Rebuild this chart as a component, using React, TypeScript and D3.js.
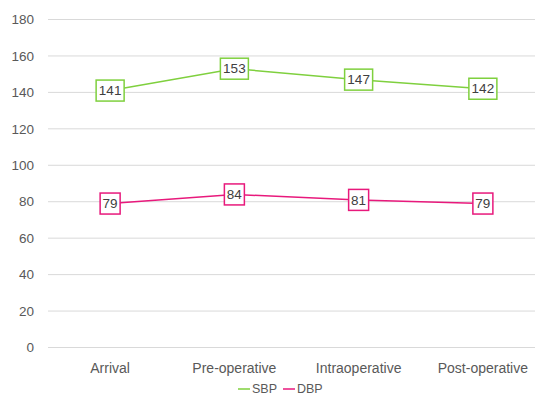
import React from "react";
import * as d3 from "d3";

const categories = ["Arrival", "Pre-operative", "Intraoperative", "Post-operative"];
const categoryLabels = ["Arrival", "Pre-operative", "Intraoperative", "Post-operative"];
const sbp = [141, 153, 147, 142];
const dbp = [79, 84, 81, 79];
const yTicks = [0, 20, 40, 60, 80, 100, 120, 140, 160, 180];
const seriesNames = ["SBP", "DBP"];

const W = 535;
const H = 397;
const FONT = "'Liberation Sans', Arial, sans-serif";
const GREEN = "#7fd03e";
const PINK = "#e8197c";

export default function App() {
  const x = d3.scaleBand<string>().domain(categories).range([48, 545]);
  const y = d3.scaleLinear().domain([0, 180]).range([347.5, 19.5]);
  const cx = (c: string) => (x(c) as number) + x.bandwidth() / 2;
  const line = d3
    .line<number>()
    .x((_, i) => cx(categories[i]))
    .y((v) => y(v));

  const series = [
    { name: seriesNames[0], values: sbp, color: GREEN },
    { name: seriesNames[1], values: dbp, color: PINK },
  ];

  return (
    <svg
      width={W}
      height={H}
      style={{ position: "absolute", left: 0, top: 0, background: "#fff" }}
      fontFamily={FONT}
    >
      {yTicks.map((t) => (
        <g key={t}>
          <line x1={48} x2={545} y1={y(t)} y2={y(t)} stroke="#d9d9d9" strokeWidth={1} />
          <text x={34} y={y(t)} dy="0.35em" textAnchor="end" fontSize={13.5} fill="#595959">
            {t}
          </text>
        </g>
      ))}
      {categories.map((c, i) => (
        <text key={c} x={cx(c)} y={368} dy="0.35em" textAnchor="middle" fontSize={14} fill="#595959">
          {categoryLabels[i]}
        </text>
      ))}
      {series.map((s) => (
        <g key={s.name}>
          <path d={line(s.values) || ""} fill="none" stroke={s.color} strokeWidth={1.5} />
          {s.values.map((v, i) => {
            const w = v >= 100 ? 28 : 20;
            const h = 21;
            const px = cx(categories[i]);
            const py = y(v);
            return (
              <g key={i}>
                <rect
                  x={px - w / 2}
                  y={py - h / 2}
                  width={w}
                  height={h}
                  fill="#fff"
                  stroke={s.color}
                  strokeWidth={1.5}
                />
                <text x={px} y={py} dy="0.35em" textAnchor="middle" fontSize={13.5} fill="#404040">
                  {v}
                </text>
              </g>
            );
          })}
        </g>
      ))}
      <g>
        <line x1={238} x2={250} y1={389} y2={389} stroke={GREEN} strokeWidth={1.5} />
        <text x={252} y={389} dy="0.35em" fontSize={12.5} fill="#595959">SBP</text>
        <line x1={283} x2={295} y1={389} y2={389} stroke={PINK} strokeWidth={1.5} />
        <text x={297} y={389} dy="0.35em" fontSize={12.5} fill="#595959">DBP</text>
      </g>
    </svg>
  );
}
